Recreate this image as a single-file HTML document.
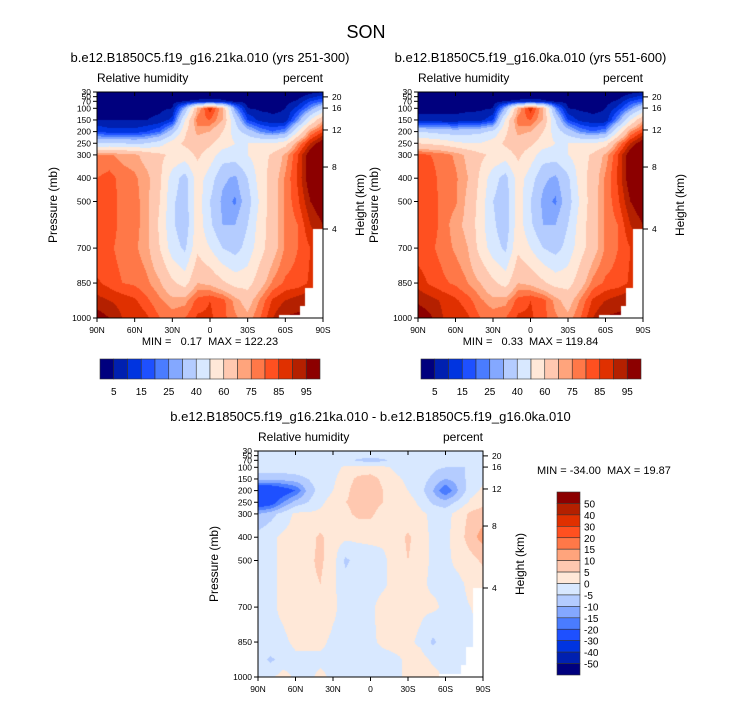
<!DOCTYPE html>
<html><head><meta charset="utf-8"><style>
body{margin:0;background:#fff;width:733px;height:701px;overflow:hidden;position:relative;font-family:"Liberation Sans",sans-serif}
canvas{position:absolute}
svg{position:absolute;left:0;top:0}
</style></head><body>
<canvas id="c1" width="226" height="226" style="left:97px;top:92px"></canvas>
<canvas id="c2" width="225" height="226" style="left:418px;top:92px"></canvas>
<canvas id="c3" width="225" height="226" style="left:258px;top:451px"></canvas>
<svg id="ov" width="733" height="701"></svg>
<script>
const lats=[90,80,70,60,50,40,30,20,10,0,-10,-20,-30,-40,-50,-60,-70,-80,-90];
const levels=[30,50,70,100,150,200,250,300,400,500,600,700,850,925,1000];
const rh1=[
[2,2,2,2,2,2,2,2,2,2,2,2,2,2,2,2,2,3,5],
[2,2,2,2,2,2,2,3,3,3,3,2,2,2,2,2,3,8,12],
[3,3,3,3,3,3,3,5,6,8,6,4,3,3,3,3,6,15,20],
[4,4,4,4,4,4,5,30,70,88,70,25,5,4,4,5,12,25,40],
[5,5,5,5,5,6,12,50,78,80,70,40,15,8,6,6,25,50,70],
[15,12,12,12,15,20,35,58,72,70,60,45,35,25,20,25,50,75,85],
[40,40,40,38,40,45,55,62,66,62,55,50,50,50,50,55,75,90,100],
[75,76,73,72,66,62,58,55,62,55,45,45,50,55,62,72,85,100,110],
[80,82,78,76,72,62,45,36,55,45,32,28,40,55,65,76,86,100,110],
[82,83,78,77,72,60,42,34,56,40,28,24,35,52,66,76,84,95,100],
[82,83,78,77,72,58,42,33,56,42,30,30,40,55,66,76,80,90,95],
[80,81,78,76,72,60,45,38,58,50,40,36,44,56,66,76,80,85,90],
[86,83,80,79,76,71,62,56,70,68,62,56,56,66,76,81,82,86,90],
[92,90,88,86,81,76,72,73,82,85,82,73,66,76,86,90,93,95,95],
[98,95,90,90,86,80,78,80,86,86,82,76,72,80,90,96,96,96,96]];
const rh2=[
[2,2,2,2,2,2,2,2,2,2,2,2,2,2,2,2,2,3,5],
[2,2,2,2,2,2,2,3,3,3,3,2,2,2,2,2,3,8,12],
[3,3,3,3,3,3,3,5,6,8,6,4,3,3,3,3,6,15,20],
[4,4,4,4,4,4,5,30,70,88,70,25,5,4,4,5,12,25,40],
[6,6,6,6,7,8,14,52,78,80,70,40,15,8,6,6,25,50,70],
[40,38,36,35,36,38,42,58,72,70,60,45,35,25,20,25,50,75,85],
[60,58,56,52,50,50,55,62,66,62,55,50,50,50,50,55,75,90,100],
[82,80,78,74,68,62,58,55,62,55,45,45,50,55,62,72,85,100,110],
[83,82,78,76,70,58,44,36,55,45,32,28,38,55,65,76,86,100,110],
[85,83,78,76,68,56,40,34,56,40,28,24,35,52,66,76,84,95,100],
[84,83,78,72,68,54,42,33,56,42,30,30,40,55,66,76,80,90,95],
[82,81,78,74,70,56,45,38,58,50,40,36,44,56,66,76,80,85,90],
[88,84,81,79,75,70,62,56,70,68,62,56,56,66,77,81,82,86,90],
[94,92,89,86,82,76,72,73,82,85,82,73,66,76,86,90,93,95,95],
[99,96,90,90,86,80,78,80,86,86,82,76,72,80,90,96,96,96,96]];
const diff=[
[-2,-2,-2,-2,-2,-2,-2,-2,-2,-2,-2,-2,-2,-2,-2,-2,-2,-2,-2],
[-2,-2,-2,-2,-2,-2,-2,-2,-3,-3,-3,-2,-2,-2,-2,-2,-2,-2,-2],
[-2,-2,-2,-2,-2,-2,-2,-3,-6,-7,-6,-3,-2,-2,-2,-2,-2,-2,-2],
[-2,-2,-2,-2,-2,-2,-2,1,2,2,1,-1,-2,-3,-4,-5,-5,-5,-4],
[-8,-8,-8,-7,-5,-2,-1,3,6,7,4,1,-1,-3,-6,-10,-8,-3,-1],
[-30,-30,-25,-20,-8,-3,0,4,7,8,5,2,0,-3,-10,-20,-10,-2,1],
[-28,-25,-15,-8,-5,-1,2,5,6,7,5,3,2,-1,-6,-8,-4,1,3],
[-10,-7,-3,1,1,1,2,4,6,6,3,2,1,1,-1,-2,2,6,8],
[-3,-1,1,2,3,6,2,1,1,1,1,2,6,2,-1,-1,2,8,12],
[-3,-1,1,3,4,6,2,-6,-3,-2,-1,2,5,2,-1,-1,1,3,6],
[-2,-1,1,4,4,5,1,-3,-2,-2,-1,2,3,1,-1,-1,-1,1,2],
[-2,-1,1,3,3,4,1,-2,-2,-1,2,2,2,1,1,-1,-1,0,1],
[-2,-1,-1,1,1,1,-1,-1,-1,-1,1,2,1,-1,-6,-2,-2,-1,0],
[-2,-6,-3,-1,-1,-1,-1,-1,-2,-2,-2,-1,1,2,-1,-2,-1,-1,-1],
[-1,-1,2,-1,-1,1,-1,-1,-1,-1,-1,-1,1,3,2,-1,-1,-1,-1]];
const rhBounds=[5,10,15,20,25,30,40,50,60,70,75,80,85,90,95];
const rhLabels=["5","15","25","40","60","75","85","95"];
const dBounds=[-50,-40,-30,-20,-15,-10,-5,0,5,10,15,20,30,40,50];
const dLabels=["50","40","30","20","15","10","5","0","-5","-10","-15","-20","-30","-40","-50"];
const pLabels=[30,50,70,100,150,200,250,300,400,500,700,850,1000];
const latLabels=["90N","60N","30N","0","30S","60S","90S"];
const hLabels=[20,16,12,8,4];
const hPress=[51,99,193,352,618];
const cols=["#00007e","#0020b0","#0034e0","#1e50ff","#4a7cff","#84a8ff","#b4ccff","#d8e8ff","#ffe8d8","#ffc8b0","#ffa47c","#ff7848","#ff5020","#e03000","#b42000","#8c0000"];
function hex(c){return [parseInt(c.substr(1,2),16),parseInt(c.substr(3,2),16),parseInt(c.substr(5,2),16)];}
const rgb=cols.map(hex);
function masked(lat,p){return (lat<-82&&p>620)||(lat<-76&&p>870)||(lat<-72&&p>950)||(lat<-55&&p>985);}
function field(id,data,bounds){
  const cv=document.getElementById(id),ctx=cv.getContext('2d'),W=cv.width,H=cv.height;
  const img=ctx.createImageData(W,H);
  for(let y=0;y<H;y++){
    const p=30+(y+0.5)/H*970;
    let k=0;while(k<levels.length-2&&levels[k+1]<p)k++;
    const ty=(p-levels[k])/(levels[k+1]-levels[k]);
    for(let x=0;x<W;x++){
      const lat=90-(x+0.5)/W*180;
      const fi=(90-lat)/10;let i=Math.min(17,Math.floor(fi));const tx=fi-i;
      const v=(data[k][i]*(1-tx)+data[k][i+1]*tx)*(1-ty)+(data[k+1][i]*(1-tx)+data[k+1][i+1]*tx)*ty;
      let c=0;while(c<bounds.length&&v>=bounds[c])c++;
      let col=masked(lat,p)?[255,255,255]:rgb[c];
      const o=(y*W+x)*4;img.data[o]=col[0];img.data[o+1]=col[1];img.data[o+2]=col[2];img.data[o+3]=255;
    }
  }
  ctx.putImageData(img,0,0);
}
field('c1',rh1,rhBounds);field('c2',rh2,rhBounds);field('c3',diff,dBounds);
const NS='http://www.w3.org/2000/svg',ov=document.getElementById('ov');
function el(tag,a,txt){const e=document.createElementNS(NS,tag);for(const k in a)e.setAttribute(k,a[k]);if(txt!==undefined)e.textContent=txt;ov.appendChild(e);return e;}
function txt(x,y,s,size,anchor,name,rot){const e=el('text',{x:x,y:y,'font-size':size,'text-anchor':anchor||'start',fill:'#000','font-family':'Liberation Sans, sans-serif','xml:space':'preserve'},s);e.style.whiteSpace='pre';if(rot)e.setAttribute('transform','rotate(-90 '+x+' '+y+')');

return e;}
function panel(ox,oy,w,h,title,pref,mm){
  const Y=p=>oy+(p-30)/970*h;
  const r=el('rect',{x:ox,y:oy,width:w,height:h,fill:'none',stroke:'#000','stroke-width':1});
  
  
  txt(ox+w/2,oy-30,title,13,'middle',pref+'-title');
  txt(ox,oy-10,'Relative humidity',12,'start',pref+'-variable-label');
  txt(ox+w,oy-10,'percent',12,'end',pref+'-units-label');
  pLabels.forEach(p=>{el('line',{x1:ox-4,x2:ox,y1:Y(p),y2:Y(p),stroke:'#000'});
    txt(ox-6,Y(p)+3,String(p),8.5,'end',pref+'-ytick-'+p);});
  latLabels.forEach((l,i)=>{const x=ox+i*w/6;el('line',{x1:x,x2:x,y1:oy+h,y2:oy+h+4,stroke:'#000'});el('line',{x1:x,x2:x,y1:oy,y2:oy+4,stroke:'#000'});
    txt(x,oy+h+15,l,8.5,'middle',pref+'-xtick-'+l);});
  hLabels.forEach((hk,i)=>{const y=Y(hPress[i]);el('line',{x1:ox+w,x2:ox+w+5,y1:y,y2:y,stroke:'#000'});
    txt(ox+w+9,y+3,String(hk),8.5,'start',pref+'-height-tick-'+hk);});
  txt(ox-40,oy+h/2,'Pressure (mb)',12,'middle',pref+'-y-axis-title',true);
  txt(ox+w+41,oy+h/2,'Height (km)',12,'middle',pref+'-y2-axis-title',true);
  if(mm)txt(ox+w/2,oy+h+27,mm,11,'middle',pref+'-min-max');
}
panel(97,92,226,226,'b.e12.B1850C5.f19_g16.21ka.010 (yrs 251-300)','plot1','MIN =   0.17  MAX = 122.23');
panel(418,92,225,226,'b.e12.B1850C5.f19_g16.0ka.010 (yrs 551-600)','plot2','MIN =   0.33  MAX = 119.84');
panel(258,451,225,226,'b.e12.B1850C5.f19_g16.21ka.010 - b.e12.B1850C5.f19_g16.0ka.010','diff',null);
txt(537,474,'MIN = -34.00  MAX = 19.87',11,'start','diff-min-max');
txt(366,38,'SON',18,'middle','main-title');
function hbar(ox,pref){const bw=220/16;
  cols.forEach((c,i)=>{const r=el('rect',{x:ox+i*bw,y:359,width:bw,height:20,fill:c,stroke:'#333','stroke-width':0.6});
  
  });
  rhLabels.forEach((l,j)=>txt(ox+(2*j+1)*bw,395,l,10,'middle',pref+'-colorbar-label'));}
hbar(100,'plot1');hbar(421,'plot2');
const vb=183/16;
cols.slice().reverse().forEach((c,i)=>{const r=el('rect',{x:557,y:492+i*vb,width:23,height:vb,fill:c,stroke:'#333','stroke-width':0.6});

});
dLabels.forEach((l,j)=>txt(584,492+(j+1)*vb+4,l,10,'start','diff-colorbar-label'));
</script>
</body></html>
